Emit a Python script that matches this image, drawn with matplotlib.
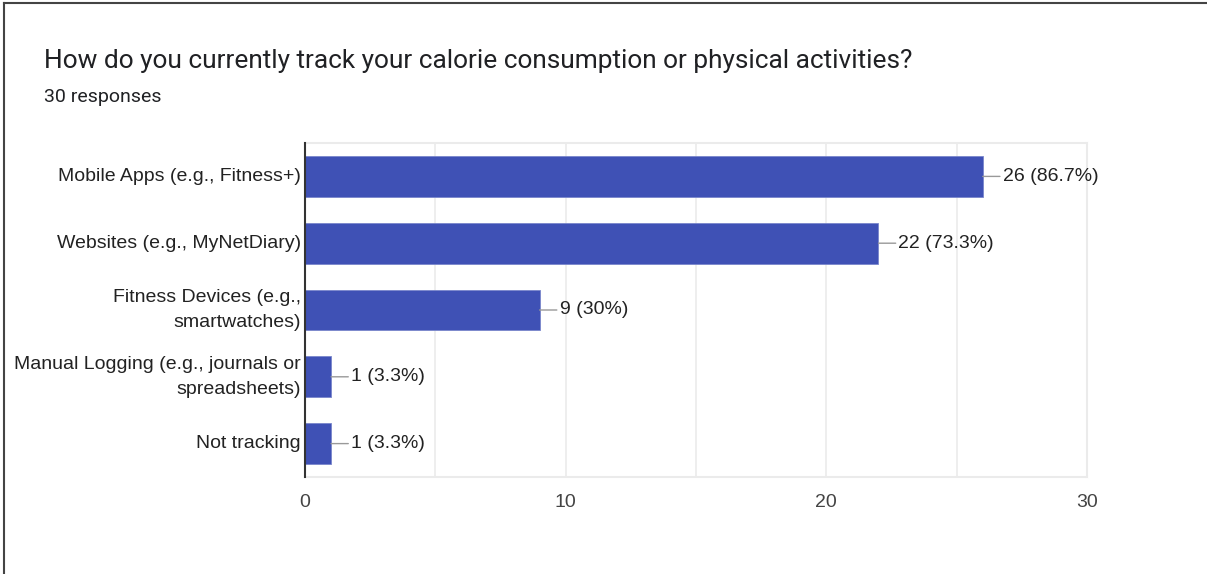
import matplotlib
matplotlib.use("Agg")
import matplotlib.pyplot as plt
from matplotlib.lines import Line2D

categories = [
    "Mobile Apps (e.g., Fitness+)",
    "Websites (e.g., MyNetDiary)",
    "Fitness Devices (e.g.,\nsmartwatches)",
    "Manual Logging (e.g., journals or\nspreadsheets)",
    "Not tracking",
]
counts = [26, 22, 9, 1, 1]
percents = ["86.7%", "73.3%", "30%", "3.3%", "3.3%"]
x_ticks = [0, 10, 20, 30]

fig = plt.figure(figsize=(12.07, 5.74), dpi=100)

# card border (top and left only)
fig.add_artist(Line2D([0.003, 1], [0.995, 0.995], transform=fig.transFigure, color="#444444", lw=1.5))
fig.add_artist(Line2D([0.003, 0.003], [0, 0.995], transform=fig.transFigure, color="#444444", lw=1.5))

fig.text(44 / 1207, 1 - 61 / 574, "How do you currently track your calorie consumption or physical activities?",
         fontsize=18.9, family="Roboto", color="#202124", va="center")
fig.text(44 / 1207, 1 - 97 / 574, "30 responses", fontsize=14, family="Roboto", color="#202124", va="center")

ax = fig.add_axes([305 / 1207, 1 - 477 / 574, (1087 - 305) / 1207, (477 - 143) / 574])
y = list(range(len(categories)))
ax.barh(y, counts, height=0.61, color="#3f51b5", edgecolor="#7986cb", linewidth=0.6, zorder=3)
ax.set_ylim(len(categories) - 0.5, -0.5)
ax.set_xlim(0, 30)

ax.set_xticks(x_ticks)
ax.set_xticks([5, 15, 25], minor=True)
ax.tick_params(axis="x", which="both", length=0, pad=12, labelsize=14, labelcolor="#444444")
ax.tick_params(axis="y", length=0, pad=3, labelsize=14, labelcolor="#222222")
for lab in ax.get_xticklabels():
    lab.set_family("Liberation Sans")
ax.set_yticks(y)
ax.set_yticklabels(categories, family="Liberation Sans", ha="right", va="center", linespacing=1.6)
ax.grid(axis="x", which="both", color="#ebebeb", lw=1.2, zorder=0)

for s in ["top", "right", "bottom"]:
    ax.spines[s].set_color("#ebebeb")
    ax.spines[s].set_linewidth(1.5)
ax.spines["left"].set_color("#333333")
ax.spines["left"].set_linewidth(1.5)
ax.spines["left"].set_zorder(4)

for yi, c, p in zip(y, counts, percents):
    ax.annotate(f"{c} ({p})", xy=(c, yi), xytext=(14.4, 0), textcoords="offset points",
                va="center", ha="left", fontsize=14, family="Liberation Sans", color="#222222",
                arrowprops=dict(arrowstyle="-", color="#999999", lw=1, shrinkA=0, shrinkB=0))

fig.savefig("out.png", dpi=100)
